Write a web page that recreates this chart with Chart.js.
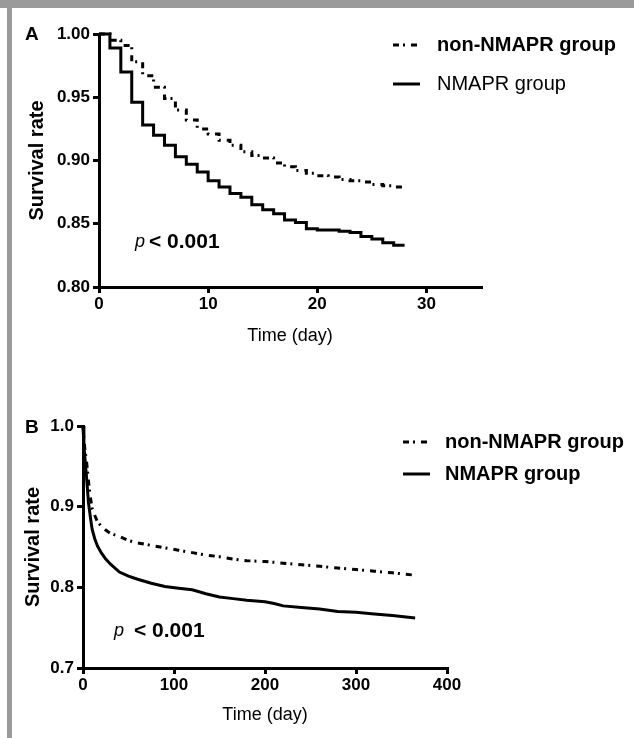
<!DOCTYPE html>
<html>
<head>
<meta charset="utf-8">
<script src="https://cdn.jsdelivr.net/npm/chart.js@4.4.1/dist/chart.umd.min.js"></script>
<style>
  html, body { margin: 0; padding: 0; background: #fff; }
  body { width: 634px; height: 738px; position: relative; overflow: hidden; }
  .panel { position: absolute; left: 0; width: 634px; height: 369px; }
  #wrapA { top: 0; }
  #wrapB { top: 369px; }
  .frameTop { position: absolute; left: 0; top: 0; width: 634px; height: 8px; background: #9a9a9a; }
  .frameLeft { position: absolute; left: 7px; top: 0; width: 5px; height: 738px; background: #9a9a9a; }
</style>
</head>
<body>
<div class="panel" id="wrapA"><canvas id="chartA"></canvas></div>
<div class="panel" id="wrapB"><canvas id="chartB"></canvas></div>
<div class="frameTop"></div>
<div class="frameLeft"></div>
<script>
// --- data: panel A (28-day survival, stepped) ---
const seriesLabels = ['non-NMAPR group', 'NMAPR group'];
const daysA = [0, 1, 2, 3, 4, 5, 6, 7, 8, 9, 10, 11, 12, 13, 14, 15, 16, 17, 18, 19, 20, 21, 22, 23, 24, 25, 26, 27, 28];
const nonNmaprA = [1.000, 0.995, 0.991, 0.978, 0.967, 0.958, 0.949, 0.940, 0.932, 0.925, 0.921, 0.916, 0.912, 0.907, 0.904,
                   0.902, 0.898, 0.895, 0.892, 0.890, 0.888, 0.887, 0.885, 0.884, 0.883, 0.881, 0.880, 0.879, 0.878];
const nmaprA = [1.000, 0.989, 0.970, 0.946, 0.928, 0.920, 0.912, 0.903, 0.897, 0.891, 0.884, 0.879, 0.874, 0.871, 0.865,
                0.861, 0.858, 0.853, 0.851, 0.846, 0.845, 0.845, 0.844, 0.843, 0.840, 0.838, 0.835, 0.833, 0.833];
const xTicksA = [0, 10, 20, 30];
const yTicksA = [0.80, 0.85, 0.90, 0.95, 1.00];

// --- data: panel B (1-year survival) ---
const daysB = [0, 1, 2, 4, 6, 8, 10, 13, 16, 20, 25, 30, 40, 50, 60, 75, 90, 105, 120, 135, 150, 165, 180, 200, 210, 220,
               240, 260, 280, 300, 320, 340, 365];
const nonNmaprB = [1.000, 0.985, 0.972, 0.955, 0.932, 0.912, 0.898, 0.889, 0.881, 0.876, 0.871, 0.867, 0.863, 0.858, 0.855,
                   0.852, 0.849, 0.846, 0.843, 0.840, 0.838, 0.835, 0.833, 0.832, 0.831, 0.830, 0.828, 0.826, 0.824, 0.822,
                   0.820, 0.818, 0.815];
const nmaprB = [1.000, 0.975, 0.962, 0.935, 0.905, 0.888, 0.872, 0.860, 0.851, 0.843, 0.835, 0.829, 0.819, 0.814, 0.810,
                0.805, 0.801, 0.799, 0.797, 0.792, 0.788, 0.786, 0.784, 0.782, 0.780, 0.777, 0.775, 0.773, 0.770, 0.769,
                0.767, 0.765, 0.762];
const xTicksB = [0, 100, 200, 300, 400];
const yTicksB = [0.7, 0.8, 0.9, 1.0];

const SANS = '"Liberation Sans", Arial, sans-serif';
const TICKFONT = { family: SANS, size: 17, weight: 'bold' };

// legend, panel letter and p value text
const panelText = {
  id: 'panelText',
  afterDraw(chart, args, o) {
    const ctx = chart.ctx;
    ctx.save();
    ctx.fillStyle = '#000';
    ctx.textBaseline = 'middle';
    ctx.textAlign = 'left';
    ctx.font = 'bold 19px ' + SANS;
    ctx.fillText(o.letter, o.letterX, o.letterY);

    chart.data.datasets.forEach((ds, i) => {
      const y = o.legendY + i * o.legendGap;
      ctx.strokeStyle = ds.borderColor;
      ctx.lineWidth = ds.borderWidth;
      ctx.setLineDash(ds.borderDash || []);
      ctx.beginPath();
      ctx.moveTo(o.legendX, y);
      ctx.lineTo(o.legendX + 27, y);
      ctx.stroke();
      ctx.setLineDash([]);
      ctx.font = o.legendWeights[i] + ' 20px ' + SANS;
      ctx.fillText(ds.label, o.textX, y);
    });

    ctx.font = 'italic 18px ' + SANS;
    ctx.fillText('p', o.pX, o.pY);
    ctx.font = 'bold 21px ' + SANS;
    ctx.fillText('< 0.001', o.pX + o.pGap, o.pY);
    ctx.restore();
  }
};

function makeScales(xTicks, yTicks, xMax, yMin, yMax, decimals, yTitlePad, xTitlePad) {
  const axisBase = {
    type: 'linear',
    border: { color: '#000', width: 3 },
    grid: { drawOnChartArea: false, color: '#000', lineWidth: 3, tickLength: 6 },
  };
  return {
    x: {
      ...axisBase,
      min: 0, max: xMax,
      afterBuildTicks: s => { s.ticks = xTicks.map(v => ({ value: v })); },
      afterFit: s => { s.height = 60; },
      ticks: { color: '#000', font: TICKFONT, padding: 1, maxRotation: 0, callback: v => String(v) },
      title: { display: true, text: 'Time (day)', color: '#000', font: { family: SANS, size: 18 },
               padding: { top: 0, bottom: xTitlePad } }
    },
    y: {
      ...axisBase,
      min: yMin, max: yMax,
      afterBuildTicks: s => { s.ticks = yTicks.map(v => ({ value: v })); },
      afterFit: s => { s.width = 80; },
      ticks: { color: '#000', font: TICKFONT, padding: 3, callback: v => v.toFixed(decimals) },
      title: { display: true, text: 'Survival rate', color: '#000', font: { family: SANS, size: 20, weight: 'bold' },
               padding: { top: yTitlePad, bottom: 0 } }
    }
  };
}

function makeDatasets(days, nonVals, nmaprVals, stepped) {
  return [
    {
      label: seriesLabels[0],
      data: days.map((d, i) => ({ x: d, y: nonVals[i] })),
      borderColor: '#000', borderWidth: 3, borderDash: [6, 4, 2, 6],
      pointRadius: 0, stepped: stepped, tension: 0, fill: false, clip: false
    },
    {
      label: seriesLabels[1],
      data: days.map((d, i) => ({ x: d, y: nmaprVals[i] })),
      borderColor: '#000', borderWidth: 3,
      pointRadius: 0, stepped: stepped, tension: 0, fill: false, clip: false
    }
  ];
}

new Chart(document.getElementById('chartA'), {
  type: 'line',
  data: { datasets: makeDatasets(daysA, nonNmaprA, nmaprA, true) },
  options: {
    responsive: true, maintainAspectRatio: false, animation: false,
    layout: { padding: { left: 19, top: 34, right: 153, bottom: 22 } },
    scales: makeScales(xTicksA, yTicksA, 35, 0.80, 1.00, 2, 6, 0),
    plugins: {
      legend: { display: false }, tooltip: { enabled: false },
      panelText: { letter: 'A', letterX: 25, letterY: 35, legendX: 393, legendY: 45, legendGap: 39, textX: 437,
                   legendWeights: ['bold', 'normal'], pX: 135, pY: 242, pGap: 14 }
    }
  },
  plugins: [panelText]
});

new Chart(document.getElementById('chartB'), {
  type: 'line',
  data: { datasets: makeDatasets(daysB, nonNmaprB, nmaprB, false) },
  options: {
    responsive: true, maintainAspectRatio: false, animation: false,
    layout: { padding: { left: 3, top: 57, right: 187, bottom: 10 } },
    scales: makeScales(xTicksB, yTicksB, 400, 0.7, 1.0, 1, 18, 2),
    plugins: {
      legend: { display: false }, tooltip: { enabled: false },
      panelText: { letter: 'B', letterX: 25, letterY: 59, legendX: 403, legendY: 73, legendGap: 32, textX: 445,
                   legendWeights: ['bold', 'bold'], pX: 114, pY: 262, pGap: 20 }
    }
  },
  plugins: [panelText]
});
</script>
</body>
</html>
